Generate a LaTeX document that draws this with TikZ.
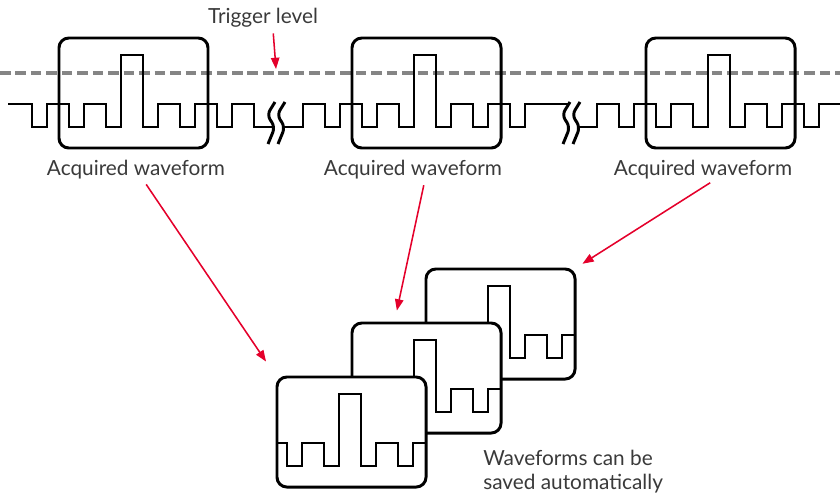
\documentclass[tikz,border=0pt]{standalone}
\usepackage{fontspec}
\setmainfont{Lato}
\usetikzlibrary{arrows.meta,calc}
\definecolor{scopeink}{HTML}{000000}
\definecolor{scopegrid}{HTML}{858585}
\definecolor{scopered}{HTML}{E4002B}
\definecolor{scopetext}{HTML}{3A3A3A}
\tikzset{
  scope frame/.style={draw=scopeink, line width=2.1pt, rounded corners=7pt,
    minimum width=3.725cm, minimum height=2.75cm, inner sep=0pt},
  saved frame/.style={scope frame, fill=white},
  scope trace/.style={draw=scopeink, line width=2.1pt},
  trigger line/.style={draw=scopegrid, line width=2.4pt,
    dash pattern=on 7.5pt off 3.5pt},
  break mark/.style={draw=scopeink, line width=2.1pt, rounded corners=4pt},
  callout/.style={draw=scopered, line width=1.1pt,
    -{Triangle[length=8pt,width=6pt]}},
  caption/.style={font=\fontsize{14.8}{17}\selectfont, text=scopetext,
    inner sep=0pt},
}

\begin{document}
\begin{tikzpicture}[x=0.025cm, y=-0.025cm]
  \useasboundingbox (0,0) rectangle (840,495);

  % trigger level
  \coordinate (lvlL) at (0,73);
  \coordinate (lvlR) at (840,73);
  \draw[trigger line] (lvlL) -- (lvlR);
  \node[caption] (trig) at (263,18) {Trigger level};
  \coordinate (trigpt) at (276,69);
  \draw[callout, shorten <=4pt] ([xshift=7pt]trig.south) -- (trigpt);

  % acquisitions
  \begin{scope}[shift={(59,38)}]
    \node[scope frame] (acqbox1) at (74.5,55) {};
    \draw[scope trace] (-51,66) -- (-27,66) -- (-27,89) -- (-12,89)
      -- (-12,66) -- (10,66) -- (10,89) -- (25,89) -- (25,66) -- (47,66)
      -- (47,89) -- (62,89) -- (62,17) -- (84,17) -- (84,89) -- (99,89)
      -- (99,66) -- (121,66) -- (121,89) -- (136,89) -- (136,66)
      -- (158,66) -- (158,89) -- (173,89) -- (173,66) -- (195,66)
      -- (195,89) -- (216,89);
  \end{scope}

  \begin{scope}[shift={(352,38)}]
    \node[scope frame] (acqbox2) at (74.5,55) {};
    \draw[scope trace] (-67,89) -- (-49,89) -- (-49,66) -- (-27,66)
      -- (-27,89) -- (-12,89) -- (-12,66) -- (10,66) -- (10,89) -- (25,89)
      -- (25,66) -- (47,66) -- (47,89) -- (62,89) -- (62,17) -- (84,17)
      -- (84,89) -- (99,89) -- (99,66) -- (121,66) -- (121,89) -- (136,89)
      -- (136,66) -- (158,66) -- (158,89) -- (173,89) -- (173,66)
      -- (218,66);
  \end{scope}

  \begin{scope}[shift={(646,38)}]
    \node[scope frame] (acqbox3) at (74.5,55) {};
    \draw[scope trace] (-66,89) -- (-49,89) -- (-49,66) -- (-27,66)
      -- (-27,89) -- (-12,89) -- (-12,66) -- (10,66) -- (10,89) -- (25,89)
      -- (25,66) -- (47,66) -- (47,89) -- (62,89) -- (62,17) -- (84,17)
      -- (84,89) -- (99,89) -- (99,66) -- (121,66) -- (121,89) -- (136,89)
      -- (136,66) -- (158,66) -- (158,89) -- (173,89) -- (173,66)
      -- (194,66);
  \end{scope}

  % breaks in the record
  \begin{scope}[shift={(267,0)}]
    \draw[break mark] (8,102) -- (0,115) -- (8,127) -- (1,144);
    \draw[break mark] (18,102) -- (10,115) -- (18,127) -- (11,144);
  \end{scope}
  \begin{scope}[shift={(562,0)}]
    \draw[break mark] (8,102) -- (0,115) -- (8,127) -- (1,144);
    \draw[break mark] (18,102) -- (10,115) -- (18,127) -- (11,144);
  \end{scope}

  \node[caption] (acq1) at (136,170) {Acquired waveform};
  \node[caption] (acq2) at (413,170) {Acquired waveform};
  \node[caption] (acq3) at (703,170) {Acquired waveform};

  % saved stack, back to front
  \begin{scope}[shift={(426,269)}]
    \node[saved frame] (saved3) at (74.5,55) {};
    \draw[scope trace] (0,66) -- (10,66) -- (10,89) -- (25,89) -- (25,66)
      -- (47,66) -- (47,89) -- (62,89) -- (62,17) -- (84,17) -- (84,89)
      -- (99,89) -- (99,66) -- (121,66) -- (121,89) -- (136,89)
      -- (136,66) -- (149,66);
  \end{scope}

  \begin{scope}[shift={(352,323)}]
    \node[saved frame] (saved2) at (74.5,55) {};
    \draw[scope trace] (0,66) -- (10,66) -- (10,89) -- (25,89) -- (25,66)
      -- (47,66) -- (47,89) -- (62,89) -- (62,17) -- (84,17) -- (84,89)
      -- (99,89) -- (99,66) -- (121,66) -- (121,89) -- (136,89)
      -- (136,66) -- (149,66);
  \end{scope}

  \begin{scope}[shift={(277,377)}]
    \node[saved frame] (saved1) at (74.5,55) {};
    \draw[scope trace] (0,66) -- (10,66) -- (10,89) -- (25,89) -- (25,66)
      -- (47,66) -- (47,89) -- (62,89) -- (62,17) -- (84,17) -- (84,89)
      -- (99,89) -- (99,66) -- (121,66) -- (121,89) -- (136,89)
      -- (136,66) -- (149,66);
  \end{scope}

  \node[caption, anchor=north west, align=left] (note) at (483,450)
    {Waveforms can be\\saved automatically};

  \draw[callout, shorten <=4pt, shorten >=12pt]
    ([xshift=5pt]acq1.south) -- (saved1.north west);
  \draw[callout, shorten <=4pt, shorten >=8pt]
    ([xshift=8.5pt]acq2.south) -- ($(saved2.north west)+(44,0)$);
  \draw[callout, shorten <=4pt, shorten >=5pt]
    ([xshift=8.5pt]acq3.south) -- (saved3.north east);
\end{tikzpicture}
\end{document}
